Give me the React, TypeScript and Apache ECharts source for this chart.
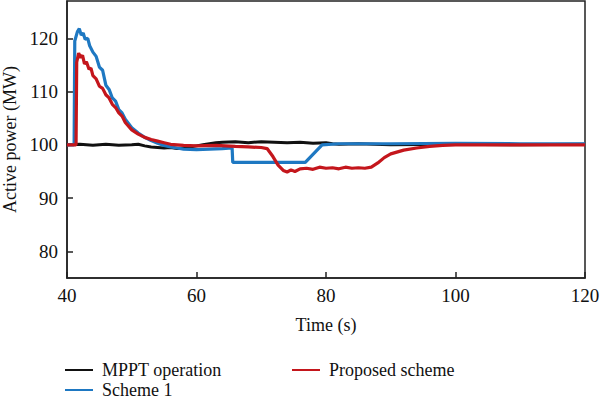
import React, { useEffect, useRef } from "react";
import * as echarts from "echarts";

const xTicks = [40, 60, 80, 100, 120];
const yTicks = [80, 90, 100, 110, 120];

const mpptT = [40, 42, 44, 46, 48, 50, 51, 52, 53, 54, 55, 56, 57, 58, 59, 60, 61, 62, 63, 64, 66, 68, 70, 72, 74, 76, 78, 80, 81, 82, 85, 90, 100, 110, 120];
const mpptV = [100, 100.1, 99.9, 100.1, 99.9, 100, 100.1, 99.8, 99.6, 99.5, 99.4, 99.5, 99.3, 99.4, 99.6, 99.8, 100, 100.2, 100.4, 100.5, 100.6, 100.4, 100.6, 100.5, 100.4, 100.5, 100.3, 100.4, 100.2, 100.1, 100.2, 100, 100.1, 100, 100.1];

const s1T = [40, 41.1, 41.2, 41.6, 41.9, 42.2, 42.5, 42.8, 43.2, 43.5, 44, 44.5, 45, 45.5, 46, 46.5, 47, 47.5, 48, 48.5, 49, 50, 51, 52, 53, 54, 55, 56, 57, 58, 60, 62, 64, 65.5, 65.6, 70, 76.8, 79.4, 82, 90, 100, 110, 120];
const s1V = [100, 100, 119.5, 121.2, 121.8, 120.6, 121.0, 119.8, 120.0, 118.6, 117.4, 116.6, 114.6, 114.0, 111.2, 110.4, 108.8, 108.2, 106.6, 106.0, 104.8, 103.2, 102.2, 101.4, 100.8, 100.3, 99.9, 99.6, 99.4, 99.2, 99.1, 99.2, 99.3, 99.4, 96.7, 96.7, 96.7, 100.0, 100.2, 100.2, 100.3, 100.2, 100.2];

const propT = [40, 41.4, 41.5, 41.8, 42.1, 42.4, 42.7, 43, 43.4, 43.7, 44, 44.5, 45, 45.5, 46, 46.5, 47, 47.5, 48, 48.5, 49, 50, 51, 52, 53, 54, 55, 56, 58, 60, 63, 66, 68, 70, 70.9, 71.8, 72.6, 73.4, 74, 74.6, 75.2, 76, 77, 78, 79, 80, 81, 82, 83, 84, 85, 86, 87, 88, 89, 90, 92, 94, 96, 98, 100, 110, 120];
const propV = [100, 100, 115.5, 117.2, 116.4, 116.8, 115.2, 115.6, 114.2, 114.4, 113.0, 112.4, 111.0, 110.6, 109.4, 108.8, 107.6, 107.0, 106.0, 105.4, 104.2, 102.8, 102.0, 101.4, 101.0, 100.7, 100.4, 100.1, 99.9, 99.8, 99.9, 99.7, 99.6, 99.5, 99.3, 97.8, 96.2, 95.2, 94.9, 95.3, 95.0, 95.5, 95.6, 95.4, 95.8, 95.6, 95.7, 95.5, 95.8, 95.6, 95.7, 95.6, 95.8, 96.6, 97.6, 98.3, 99.0, 99.4, 99.7, 99.9, 100, 100, 100];

const pairs = (t: number[], v: number[]) => t.map((x, i) => [x, v[i]]);

const FONT = "Liberation Serif";
const AXIS_COLOR = "#222";

export default function App() {
  const ref = useRef<HTMLDivElement>(null);
  useEffect(() => {
    if (!ref.current) return;
    const chart = echarts.init(ref.current, undefined, { renderer: "svg" });
    const legendBase = {
      icon: "rect",
      itemWidth: 28,
      itemHeight: 2,
      orient: "horizontal" as const,
      textStyle: { fontFamily: FONT, fontSize: 18, color: "#111", padding: [0, 0, 0, 4] },
    };
    chart.setOption({
      animation: false,
      backgroundColor: "#fff",
      grid: {
        left: 67,
        right: 15,
        top: 1,
        bottom: 121,
        show: true,
        borderColor: AXIS_COLOR,
        borderWidth: 1.5,
        backgroundColor: "transparent",
        containLabel: false,
        outerBoundsMode: "none",
      },
      legend: [
        { ...legendBase, data: ["MPPT operation"], left: 60, top: 356 },
        { ...legendBase, data: ["Scheme 1"], left: 60, top: 376 },
        { ...legendBase, data: ["Proposed scheme"], left: 287, top: 356 },
      ],
      xAxis: {
        type: "value",
        min: 40,
        max: 120,
        interval: 20,
        name: "Time (s)",
        nameLocation: "middle",
        nameGap: 38,
        nameTextStyle: { fontFamily: FONT, fontSize: 18, color: "#111" },
        axisLine: { show: true, lineStyle: { color: AXIS_COLOR, width: 1.5 } },
        axisTick: { show: true, inside: true, length: 6, lineStyle: { color: AXIS_COLOR, width: 1.5 } },
        axisLabel: {
          fontFamily: FONT,
          fontSize: 19,
          color: "#111",
          margin: 8,
          customValues: xTicks,
        },
        splitLine: { show: false },
      },
      yAxis: {
        type: "value",
        min: 75,
        max: 127,
        name: "Active power (MW)",
        nameLocation: "middle",
        nameGap: 46,
        nameTextStyle: { fontFamily: FONT, fontSize: 18, color: "#111" },
        axisLine: { show: true, lineStyle: { color: AXIS_COLOR, width: 1.5 } },
        axisTick: {
          show: true,
          inside: true,
          length: 6,
          lineStyle: { color: AXIS_COLOR, width: 1.5 },
          customValues: yTicks,
        },
        axisLabel: {
          fontFamily: FONT,
          fontSize: 19,
          color: "#111",
          margin: 9,
          customValues: yTicks,
        },
        splitLine: { show: false },
      },
      series: [
        {
          name: "MPPT operation",
          type: "line",
          data: pairs(mpptT, mpptV),
          showSymbol: false,
          lineStyle: { color: "#111", width: 3 },
          itemStyle: { color: "#111" },
        },
        {
          name: "Scheme 1",
          type: "line",
          data: pairs(s1T, s1V),
          showSymbol: false,
          lineStyle: { color: "#1E78C2", width: 3.2 },
          itemStyle: { color: "#1E78C2" },
        },
        {
          name: "Proposed scheme",
          type: "line",
          data: pairs(propT, propV),
          showSymbol: false,
          lineStyle: { color: "#C4161C", width: 3.2 },
          itemStyle: { color: "#C4161C" },
        },
      ],
    });
    return () => chart.dispose();
  }, []);
  return <div ref={ref} style={{ width: 600, height: 399, position: "fixed", left: 0, top: 0 }} />;
}
